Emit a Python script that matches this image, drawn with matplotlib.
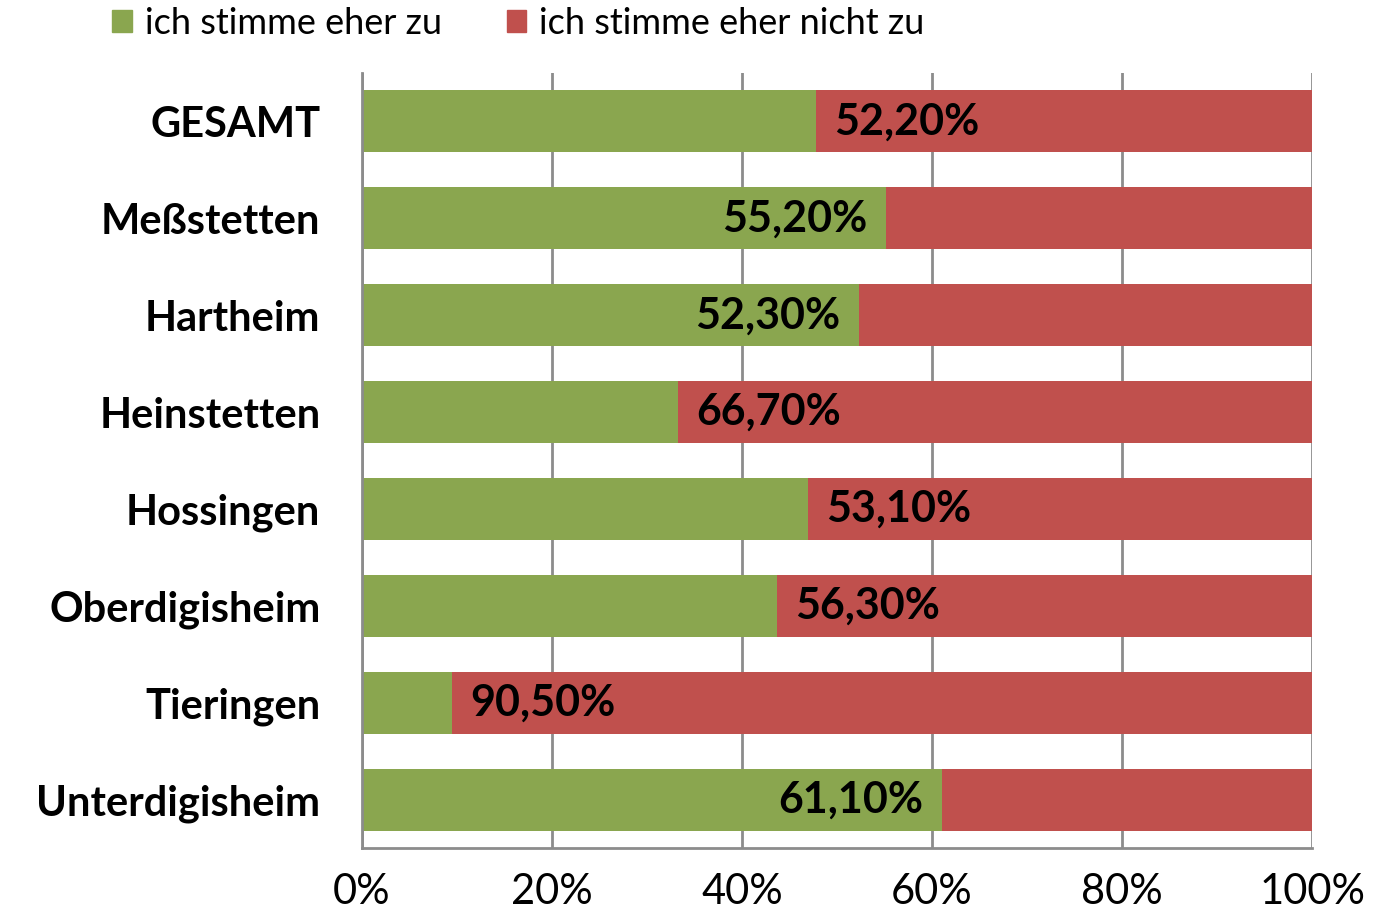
import matplotlib.pyplot as plt
from matplotlib.patches import Patch

categories = ["GESAMT", "Meßstetten", "Hartheim", "Heinstetten", "Hossingen",
              "Oberdigisheim", "Tieringen", "Unterdigisheim"]
zu = [47.8, 55.2, 52.3, 33.3, 46.9, 43.7, 9.5, 61.1]
nicht_zu = [52.2, 44.8, 47.7, 66.7, 53.1, 56.3, 90.5, 38.9]
ticks = [0, 20, 40, 60, 80, 100]

green = "#8aa64f"
red = "#c0504d"
grid_c = "#8c8c8c"

plt.rcParams['font.family'] = ['Lato', 'DejaVu Sans']

fig = plt.figure(figsize=(13.73, 9.16), dpi=100)
ax = fig.add_axes([0.2637, 0.0742, 0.9556 - 0.2637, 0.9203 - 0.0742])

y = list(range(len(categories)))
ax.barh(y, zu, height=0.64, color=green, zorder=2)
ax.barh(y, nicht_zu, left=zu, height=0.64, color=red, zorder=2)

# label the larger share, next to the green/red boundary
for i in y:
    if zu[i] >= nicht_zu[i]:
        ax.text(zu[i] - 2, i, f"{zu[i]:.2f}%".replace(".", ","), ha="right",
                va="center", fontsize=31, fontweight="bold", zorder=3)
    else:
        ax.text(zu[i] + 1.9, i, f"{nicht_zu[i]:.2f}%".replace(".", ","), ha="left",
                va="center", fontsize=31, fontweight="bold", zorder=3)

ax.set_xlim(0, 100)
ax.set_ylim(len(categories) - 0.5, -0.5)
ax.set_xticks(ticks)
ax.set_xticklabels([f"{t}%" for t in ticks], fontsize=30)
ax.set_yticks(y)
ax.set_yticklabels(categories, fontsize=30, fontweight="bold")
ax.tick_params(axis="x", length=0, pad=18)
ax.tick_params(axis="y", length=0, pad=30)
ax.xaxis.grid(True, color=grid_c, linewidth=2, zorder=1)
for s in ["top", "right"]:
    ax.spines[s].set_visible(False)
for s in ["left", "bottom"]:
    ax.spines[s].set_color(grid_c)
    ax.spines[s].set_linewidth(2)

handles = [Patch(color=green, label="ich stimme eher zu"),
           Patch(color=red, label="ich stimme eher nicht zu")]
fig.legend(handles=handles, loc="upper left", bbox_to_anchor=(0.058, 1.028),
           ncol=2, frameon=False, fontsize=26, handlelength=0.55, handleheight=0.55,
           handletextpad=0.35, columnspacing=1.8)

fig.savefig("out.png", dpi=100)
